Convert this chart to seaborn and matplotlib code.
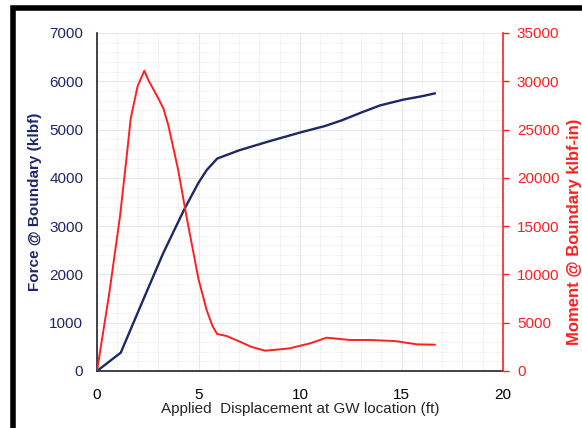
import seaborn as sns
import matplotlib.pyplot as plt
import matplotlib.patches as patches
from matplotlib.ticker import MultipleLocator
import pandas as pd

# data
disp_force = [0, 1.17, 2.2, 3.26, 4.3, 5.0, 5.4, 5.92, 7.0, 8.5, 10.1, 11.2, 12.05, 13.0, 13.94, 15.09, 16.0, 16.65]
force = [0, 380, 1400, 2440, 3350, 3900, 4160, 4400, 4570, 4760, 4950, 5070, 5190, 5350, 5500, 5620, 5690, 5750]

disp_moment = [0, 0.6, 1.13, 1.45, 1.66, 2.0, 2.33, 2.53, 3.02, 3.27, 3.51, 4.0, 4.41, 5.0, 5.4, 5.7, 5.92, 6.39,
               7.04, 7.6, 8.28, 9.0, 9.5, 10.49, 11.31, 12.46, 13.45, 14.68, 15.75, 16.65]
moment = [0, 8000, 15970, 22000, 26160, 29500, 31090, 30120, 28230, 27190, 25470, 20800, 15970, 9500, 6310, 4600, 3830, 3620,
          3030, 2500, 2100, 2240, 2350, 2860, 3450, 3210, 3210, 3100, 2760, 2720]

df_force = pd.DataFrame({"disp": disp_force, "force": force})
df_moment = pd.DataFrame({"disp": disp_moment, "moment": moment})

navy = "#1c2868"
red = "#ff1f1f"

sns.set_style("white")
plt.rcParams["font.family"] = ["Liberation Sans", "DejaVu Sans"]

fig = plt.figure(figsize=(5.82, 4.28), dpi=100)
ax = fig.add_axes([0.1667, 0.1332, 0.6976, 0.7897])

# black frame round the picture
fig.patches.append(patches.Rectangle((13 / 582, -0.1), 1.2, 1 - 8 / 428 + 0.1, transform=fig.transFigure,
                                     fill=False, edgecolor="black", linewidth=4))

sns.lineplot(data=df_force, x="disp", y="force", ax=ax, color=navy, linewidth=1.7)
ax.set_xlim(0, 20)
ax.set_ylim(0, 7000)
ax.xaxis.set_major_locator(MultipleLocator(5))
ax.xaxis.set_minor_locator(MultipleLocator(1))
ax.yaxis.set_major_locator(MultipleLocator(1000))
ax.yaxis.set_minor_locator(MultipleLocator(200))
ax.grid(which="major", color="#e6e9ec", linewidth=0.8)
ax.grid(which="minor", color="#f2f3f5", linewidth=0.6)
ax.tick_params(axis="both", which="both", length=0, labelsize=11)
ax.tick_params(axis="y", colors=navy, pad=10)
ax.tick_params(axis="x", colors="black", pad=12)
ax.set_xlabel("Applied  Displacement at GW location (ft)", fontsize=11, labelpad=0)
ax.set_ylabel("Force @ Boundary (klbf)", fontsize=11, fontweight="bold", color=navy)
ax.yaxis.set_label_coords((42 - 97) / 406, 0.5)
for s in ["left", "bottom"]:
    ax.spines[s].set_color("#222222")
    ax.spines[s].set_linewidth(1.2)
ax.spines["top"].set_visible(False)
ax.spines["right"].set_visible(False)

ax2 = ax.twinx()
sns.lineplot(data=df_moment, x="disp", y="moment", ax=ax2, color=red, linewidth=1.4)
ax2.set_ylim(0, 35000)
ax2.yaxis.set_major_locator(MultipleLocator(5000))
ax2.tick_params(axis="y", colors=red, length=4, width=1, labelsize=11, pad=6)
ax2.set_ylabel("Moment @ Boundary klbf-in)", fontsize=12, fontweight="bold", color=red)
ax2.yaxis.set_label_coords((567 - 97) / 406, (371 - 232) / 338)
ax2.spines["right"].set_color(red)
ax2.spines["right"].set_linewidth(1.2)
for s in ["left", "top", "bottom"]:
    ax2.spines[s].set_visible(False)
ax2.grid(False)

fig.savefig("out.png", dpi=100)
